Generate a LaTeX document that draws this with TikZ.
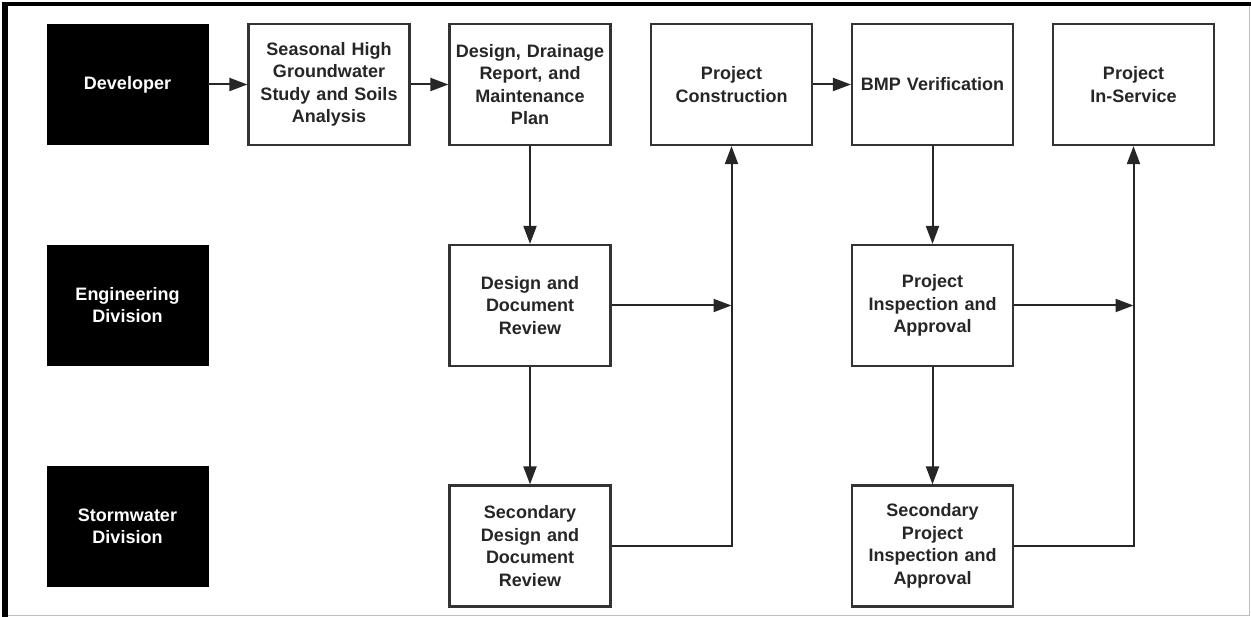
\documentclass[tikz,border=0pt]{standalone}
\usepackage{fontspec}
\setmainfont{Liberation Sans}
\usetikzlibrary{arrows.meta}
\definecolor{ink}{HTML}{262626}
\definecolor{edge}{HTML}{333333}
\tikzset{
  wbox/.style={draw=edge, line width=2.2pt, fill=white, minimum width=161pt, minimum height=121pt,
    text width=157pt, align=center, inner sep=0pt, text=ink,
    font=\fontsize{18pt}{22.5pt}\selectfont\bfseries},
  bbox/.style={draw=black, fill=black, minimum width=161pt, minimum height=120pt,
    text width=157pt, align=center, inner sep=0pt, text=white,
    font=\fontsize{18pt}{22.5pt}\selectfont\bfseries},
  arr/.style={draw=ink, line width=2pt, -{Triangle[length=18pt,width=13pt]}},
  ln/.style={draw=ink, line width=2pt}
}
\begin{document}
\begin{tikzpicture}[x=1pt,y=-1pt]
\useasboundingbox (0,0) rectangle (1251,617);
% frame
\draw[line width=0.8pt, black!25] (5,615.5) -- (1249,615.5) -- (1249,4);
\fill[black] (2,2) rectangle (1251,6.5);
\fill[black] (2,2) rectangle (7.5,617);
% lanes
\node[bbox] (dev) at (127.5,84.5) {Developer};
\node[bbox] (eng) at (127.5,305) {Engineering\\Division};
\node[bbox] (sto) at (127.5,526.5) {Stormwater\\Division};
% row 1
\node[wbox] (seas) at (329,84.5) {Seasonal High\\Groundwater\\Study and Soils\\Analysis};
\node[wbox] (ddm) at (530,84.5) {Design, Drainage\\Report, and\\Maintenance\\Plan};
\node[wbox] (pc) at (731.5,84.5) {Project\\Construction};
\node[wbox] (bmp) at (932.5,84.5) {BMP Verification};
\node[wbox] (pis) at (1133.5,84.5) {Project\\In-Service};
% row 2
\node[wbox] (ddr) at (530,305.5) {Design and\\Document\\Review};
\node[wbox] (pia) at (932.5,305.5) {Project\\Inspection and\\Approval};
% row 3
\node[wbox] (sddr) at (530,546) {Secondary\\Design and\\Document\\Review};
\node[wbox] (spia) at (932.5,546) {Secondary\\Project\\Inspection and\\Approval};
% connectors
\draw[arr] (dev.east) -- (seas.west);
\draw[arr] (seas.east) -- (ddm.west);
\draw[arr] (pc.east) -- (bmp.west);
\draw[arr] (ddm.south) -- (ddr.north);
\draw[arr] (ddr.south) -- (sddr.north);
\draw[arr] (bmp.south) -- (pia.north);
\draw[arr] (pia.south) -- (spia.north);
\draw[arr] (sddr.east) -| (pc.south);
\draw[arr] (ddr.east) -- (ddr.east -| pc.south);
\draw[arr] (spia.east) -| (pis.south);
\draw[arr] (pia.east) -- (pia.east -| pis.south);
\end{tikzpicture}
\end{document}
